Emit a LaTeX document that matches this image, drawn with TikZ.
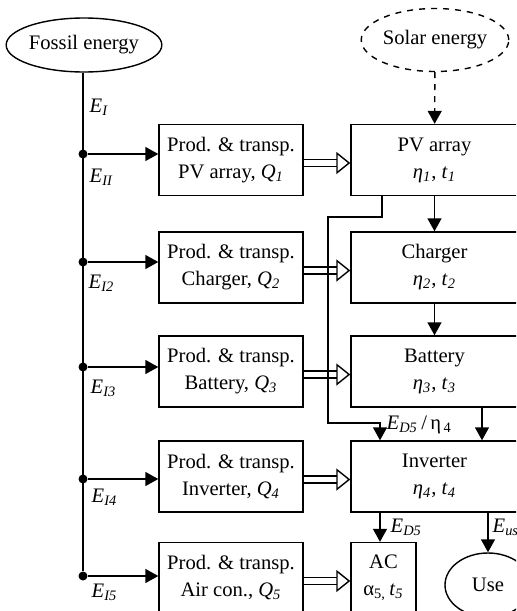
\documentclass[tikz,border=0pt]{standalone}
\usepackage{fontspec}
\setmainfont{Liberation Serif}
\usetikzlibrary{arrows.meta, shapes.geometric}

\newcommand{\isub}[2]{\textit{#1}\textsubscript{\textit{#2}}}

\begin{document}
\begin{tikzpicture}[x=0.5pt, y=-0.5pt, >={Triangle[length=6.5pt, width=7pt]},
  font=\fontsize{10.3}{13.5}\selectfont, line width=0.7pt,
  blockbox/.style={draw, align=center, minimum height=35.5pt, inner sep=1pt},
  prodbox/.style={blockbox, minimum width=72pt},
  unitbox/.style={blockbox, minimum width=83.5pt},
  source/.style={draw, ellipse, inner sep=0pt},
  dbl/.style={double, double distance=2.8pt, -{Triangle[open, length=7pt, width=11pt, line width=0.7pt]}},
  lbl/.style={anchor=west, inner sep=0pt},
  junction/.style={circle, fill, inner sep=0pt, minimum size=4.5pt}]
  % Frame of the picture
  \useasboundingbox (0,0) rectangle (516,611);
  \clip (0,0) rectangle (516,611);

  % Energy sources
  \node[source, minimum width=72.5pt, minimum height=27pt] (fossil) at (84,45) {Fossil energy};
  \node[source, dashed, minimum width=73pt, minimum height=31.5pt] (solar) at (435,40) {Solar energy};

  % Production and transport
  \node[prodbox] (p1) at (231,160) {Prod. \& transp.\\PV array, \isub{Q}{1}};
  \node[prodbox] (p2) at (231,267.5) {Prod. \& transp.\\Charger, \isub{Q}{2}};
  \node[prodbox] (p3) at (231,371.5) {Prod. \& transp.\\Battery, \isub{Q}{3}};
  \node[prodbox] (p4) at (231,476.5) {Prod. \& transp.\\Inverter, \isub{Q}{4}};
  \node[prodbox] (p5) at (231,578) {Prod. \& transp.\\Air con., \isub{Q}{5}};

  % System units
  \node[unitbox] (pv) at (434.5,160) {PV array\\\isub{η}{1}, \isub{t}{1}};
  \node[unitbox] (chg) at (434.5,267.5) {Charger\\\isub{η}{2}, \isub{t}{2}};
  \node[unitbox] (bat) at (434.5,371.5) {Battery\\\isub{η}{3}, \isub{t}{3}};
  \node[unitbox] (inv) at (434.5,476.5) {Inverter\\\isub{η}{4}, \isub{t}{4}};
  \node[blockbox, minimum width=32.5pt] (ac) at (383.5,578) {AC\\α\textsubscript{5,}\,\isub{t}{5}};
  \node[source, minimum width=43pt, minimum height=32pt] (use) at (488,585) {Use};

  % Fossil energy branches
  \foreach \y [count=\i] in {154,262,367,479,576}
    \node[junction] (j\i) at (83,\y) {};
  \draw (fossil.south -| j1) -- (j5);
  \foreach \i in {1,...,5}
    \draw[->] (j\i) -- (j\i -| p\i.west);
  \node[lbl] (ei) at (89,107) {\isub{E}{I}};
  \node[lbl] (ei1) at (89,177) {\isub{E}{II}};
  \node[lbl] (ei2) at (88,283) {\isub{E}{I2}};
  \node[lbl] (ei3) at (90,388) {\isub{E}{I3}};
  \node[lbl] (ei4) at (91,497) {\isub{E}{I4}};
  \node[lbl] (ei5) at (91,592) {\isub{E}{I5}};

  % Embodied energy into units
  \foreach \a/\b in {p1/pv, p2/chg, p3/bat, p4/inv, p5/ac}
    \draw[dbl] ([yshift=-1.5pt]\a.east) -- ([yshift=-1.5pt]\b.west);

  % Energy chain
  \draw[->, dashed] (solar) -- (pv);
  \draw[->] (pv) -- (chg);
  \draw[->] (chg) -- (bat);
  \coordinate (bx) at (482,0);
  \draw[->] (bat.south -| bx) -- (inv.north -| bx);

  % Direct path to inverter
  \coordinate (tap) at (382,217);
  \coordinate (bendA) at (328,217);
  \coordinate (bendB) at (328,423);
  \coordinate (drop) at (380,423);
  \draw[->] (pv.south -| tap) -- (tap) -- (bendA) -- (bendB) -- (drop) -- (inv.north -| drop);
  \node[lbl] (ed5eta) at (386,425) {\isub{E}{D5}\,/\,η\textsubscript{\,4}};

  % Outputs
  \draw[->] (inv.south -| drop) -- (ac.north -| drop);
  \node[lbl] (ed5) at (390,527) {\isub{E}{D5}};
  \draw[->] (inv.south -| use) -- (use);
  \node[lbl] (eus) at (492,527) {\isub{E}{us}};
\end{tikzpicture}
\end{document}
